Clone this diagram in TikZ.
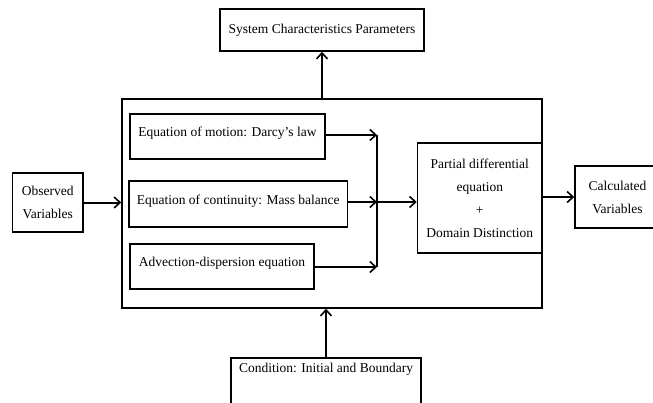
\documentclass[tikz,border=0pt]{standalone}
\usepackage{fontspec}
\setmainfont{Liberation Serif}
\usetikzlibrary{arrows.meta}
\begin{document}
\begin{tikzpicture}[x=1pt,y=-1pt,
  box/.style={draw=black,line width=1.5pt,fill=white,inner sep=0pt,align=center,font=\fontsize{13.5}{23}\selectfont},
  arr/.style={line width=2pt,-{Straight Barb[length=6pt,width=11pt,line width=1.6pt]}},
  ln/.style={line width=2pt}]
\useasboundingbox (0,0) rectangle (653,402);
\node[box,minimum width=420,minimum height=209] (main) at (332,203.5) {};
\node[box,minimum width=204,minimum height=42] (sys) at (322,30) {System Characteristics Parameters};
\node[box,minimum width=195,minimum height=45,text depth=9pt] (darcy) at (227.5,136.5) {Equation of motion: Darcy’s law};
\node[box,minimum width=218.5,minimum height=46,text depth=9pt] (cont) at (238.25,204) {Equation of continuity: Mass balance};
\node[box,minimum width=184,minimum height=45,text depth=9pt] (adv) at (222,266.5) {Advection-dispersion equation};
\node[box,minimum width=124.5,minimum height=110] (pde) at (479.75,198) {Partial differential\\equation\\+\\Domain Distinction};
\node[box,minimum width=85,minimum height=62] (calc) at (617.5,197) {Calculated\\Variables};
\node[box,minimum width=70.5,minimum height=59] (obs) at (47.75,202.5) {Observed\\Variables};
\node[box,minimum width=190,minimum height=60,text depth=40pt] (cond) at (326,388) {Condition: Initial and Boundary};
\coordinate (mx) at (377,202);
\draw[ln] (mx |- 0,135) -- (mx |- 0,267);
\draw[arr] (darcy.east |- 0,135) -- (mx |- 0,135);
\draw[arr] (cont.east |- mx) -- (mx);
\draw[arr] (adv.east |- 0,267) -- (mx |- 0,267);
\draw[arr] (mx) -- (pde.west |- mx);
\draw[arr] (obs.east) -- (obs.east -| main.west);
\draw[arr] (sys.south |- main.north) -- (sys.south);
\draw[arr] (cond.north) -- (cond.north |- main.south);
\draw[arr] (calc.west -| pde.east) -- (calc.west);
\end{tikzpicture}
\end{document}
